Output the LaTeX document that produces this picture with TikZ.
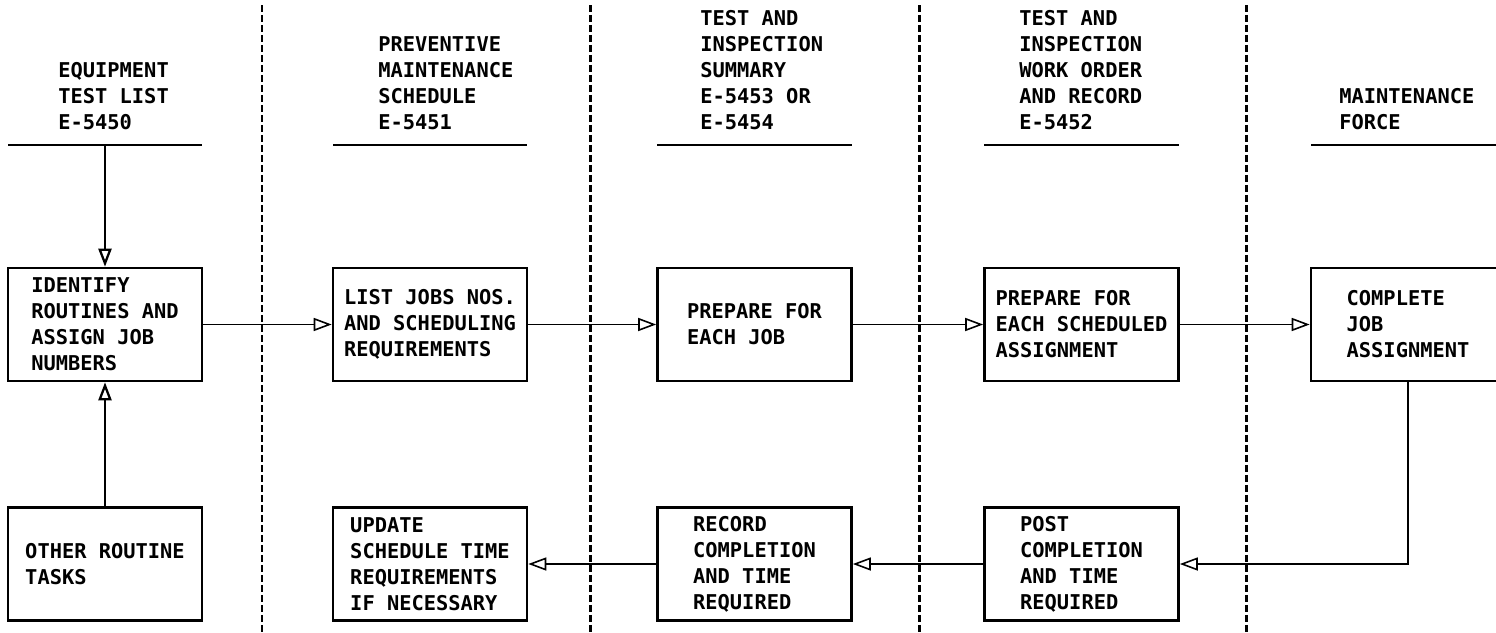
\documentclass[tikz,border=0pt]{standalone}
\usepackage{fontspec}
\setmonofont{DejaVu Sans Mono}
\usetikzlibrary{arrows.meta,positioning}

\begin{document}
\begin{tikzpicture}[x=0.02cm, y=-0.02cm,
    >={Triangle[open,length=0.36cm,width=0.26cm]},
    every node/.style={font=\ttfamily\bfseries\fontsize{11.6}{14.8}\selectfont},
    task/.style={draw, line width=1.5pt, minimum width=3.88cm, minimum height=2.26cm, align=left, inner sep=0pt},
    head/.style={anchor=south west, align=left, inner sep=0pt},
    lane/.style={line width=1.7pt, dash pattern=on 0.14cm off 0.06cm},
    rule/.style={line width=1pt},
    flow/.style={->, line width=0.9pt}]

    \useasboundingbox (0,0) rectangle (1496,632);

    % Column headings (forms)
    \node[head] (hEquip) at (58,130) {EQUIPMENT\\TEST LIST\\E-5450};
    \node[head] (hSched) at (378,130) {PREVENTIVE\\MAINTENANCE\\SCHEDULE\\E-5451};
    \node[head] (hSumm) at (700,130) {TEST AND\\INSPECTION\\SUMMARY\\E-5453 OR\\E-5454};
    \node[head] (hWork) at (1019,130) {TEST AND\\INSPECTION\\WORK ORDER\\AND RECORD\\E-5452};
    \node[head] (hForce) at (1339,130) {MAINTENANCE\\FORCE};

    \draw[rule] (8,145) -- (202,145);
    \draw[rule] (333,145) -- (527,145);
    \draw[rule] (657,145) -- (852,145);
    \draw[rule] (984,145) -- (1179,145);
    \draw[rule] (1311,145) -- (1496,145);

    % Lane separators
    \draw[lane] (262,5) -- (262,632);
    \draw[lane] (590,5) -- (590,632);
    \draw[lane] (919,5) -- (919,632);
    \draw[lane] (1246,5) -- (1246,632);

    % Upper row of tasks
    \node[task] (identify) at (105,324.5) {IDENTIFY\\ROUTINES AND\\ASSIGN JOB\\NUMBERS};
    \node[task] (listjobs) at (430,324.5) {LIST JOBS NOS.\\AND SCHEDULING\\REQUIREMENTS};
    \node[task] (prepjob) at (754.5,324.5) {PREPARE FOR\\EACH JOB};
    \node[task] (prepsched) at (1081.5,324.5) {PREPARE FOR\\EACH SCHEDULED\\ASSIGNMENT};
    \node[task] (complete) at (1408,324.5) {COMPLETE\\JOB\\ASSIGNMENT};

    % Lower row of tasks
    \node[task] (other) at (105,564) {OTHER ROUTINE\\TASKS};
    \node[task] (update) at (430,564) {UPDATE\\SCHEDULE TIME\\REQUIREMENTS\\IF NECESSARY};
    \node[task] (record) at (754.5,564) {RECORD\\COMPLETION\\AND TIME\\REQUIRED};
    \node[task] (post) at (1081.5,564) {POST\\COMPLETION\\AND TIME\\REQUIRED};

    % Flow
    \coordinate (equipline) at (105,145);
    \draw[flow, line width=1.3pt] (equipline) -- (identify);
    \draw[flow, line width=1.3pt] (other) -- (identify);
    \draw[flow] (identify) -- (listjobs);
    \draw[flow] (listjobs) -- (prepjob);
    \draw[flow] (prepjob) -- (prepsched);
    \draw[flow] (prepsched) -- (complete);
    \draw[flow] (complete.south) |- (post.east);
    \draw[flow] (post) -- (record);
    \draw[flow] (record) -- (update);

\end{tikzpicture}
\end{document}
